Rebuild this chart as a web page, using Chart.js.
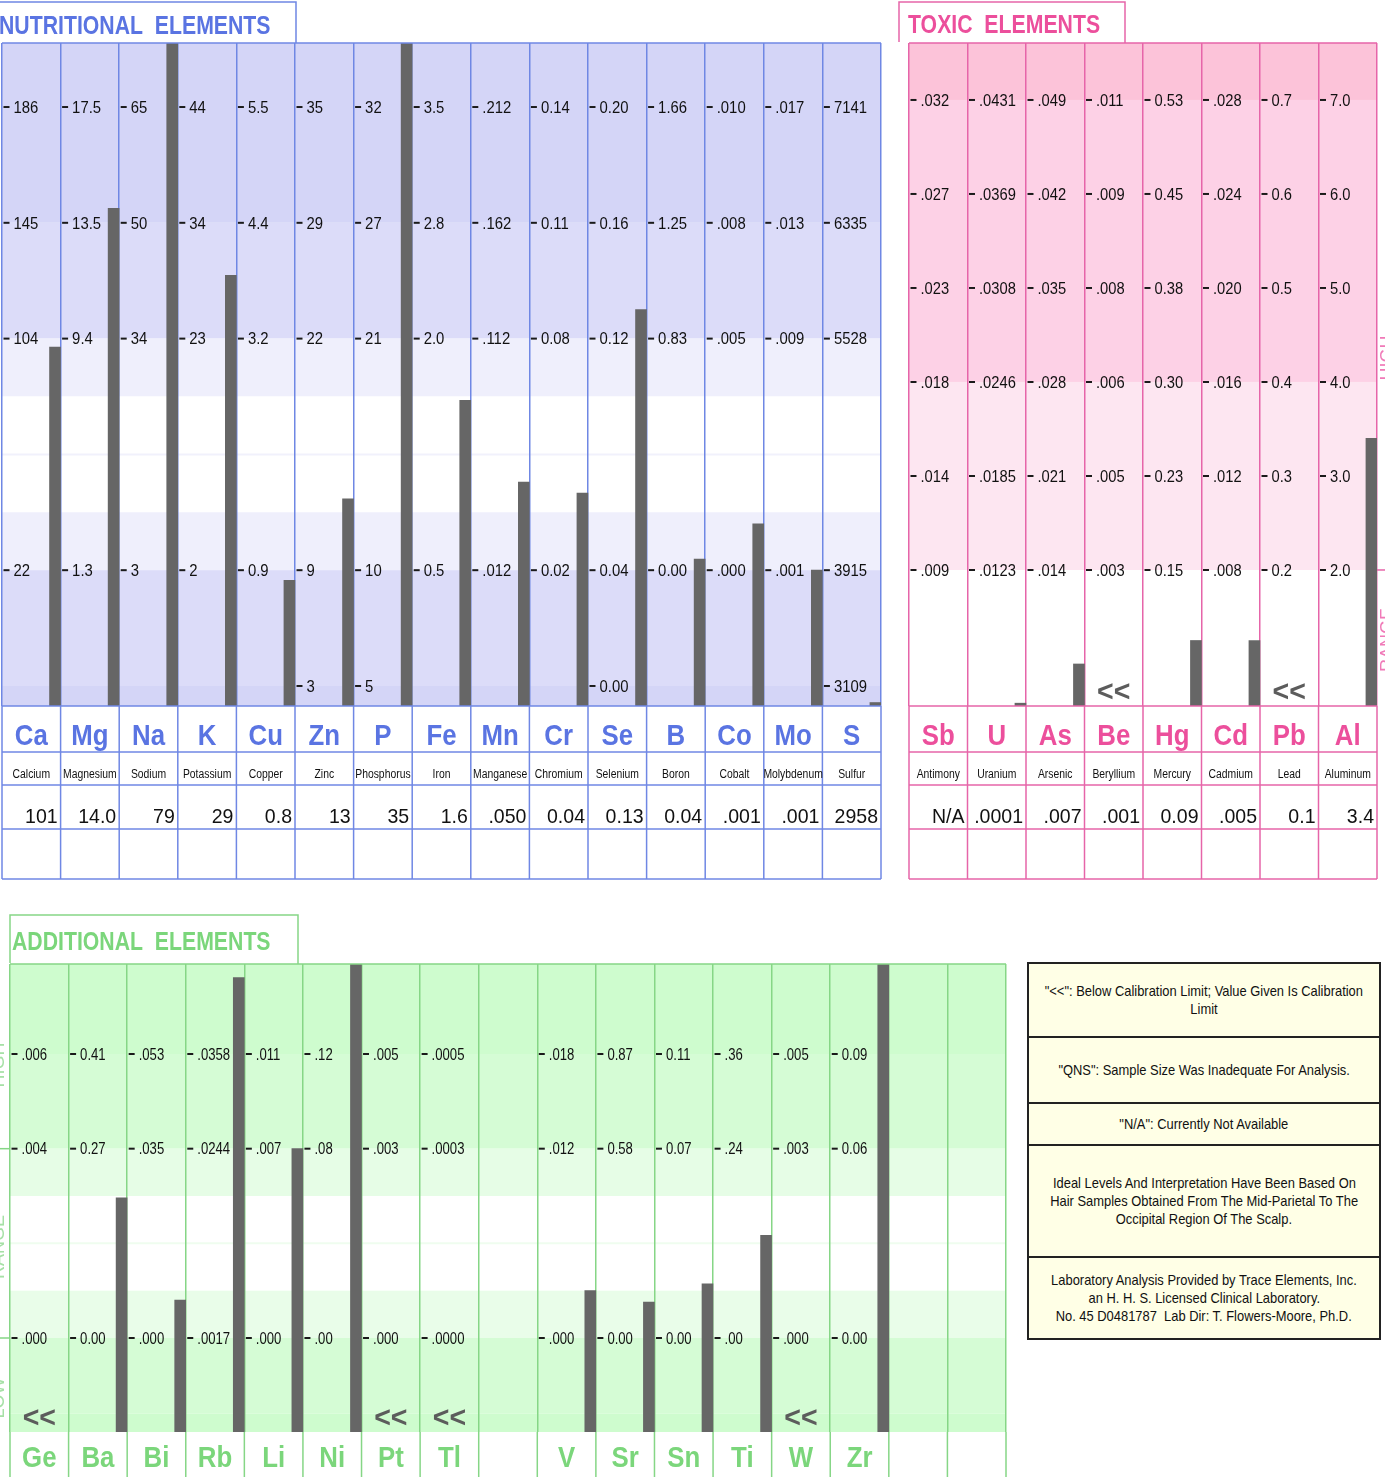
<!DOCTYPE html>
<html>
<head>
<meta charset="utf-8">
<title>Hair Tissue Mineral Analysis</title>
<script src="https://cdn.jsdelivr.net/npm/chart.js@4.4.1/dist/chart.umd.min.js"></script>
<style>
html, body { margin:0; padding:0; background:#fff; width:1385px; height:1477px; overflow:hidden; position:relative; }
canvas { position:absolute; display:block; }
#legend { position:absolute; left:1027px; top:962px; width:354px; height:378px; box-sizing:border-box;
  border:2px solid #222; background:#ffffe6; font-family:'Liberation Sans', Arial, sans-serif; font-size:14.2px; color:#111; }
#legend .row { box-sizing:border-box; border-bottom:2px solid #222; display:flex; flex-direction:column;
  align-items:center; justify-content:center; overflow:hidden; }
#legend .row:last-child { border-bottom:none; }
#legend .row div { white-space:nowrap; text-align:center; line-height:18px; transform:scaleX(0.91); }
</style>
</head>
<body>
<canvas id="cNutri" width="895" height="885" style="left:0px;top:0px;"></canvas>
<canvas id="cToxic" width="495" height="885" style="left:890px;top:0px;"></canvas>
<canvas id="cAdd" width="1015" height="577" style="left:0px;top:900px;"></canvas>
<div id="legend"></div>
<script>
// ================= DATA =================
const nutriSymbols = ["Ca","Mg","Na","K","Cu","Zn","P","Fe","Mn","Cr","Se","B","Co","Mo","S"];
const nutriNames = ["Calcium","Magnesium","Sodium","Potassium","Copper","Zinc","Phosphorus","Iron","Manganese","Chromium","Selenium","Boron","Cobalt","Molybdenum","Sulfur"];
const nutriResults = ["101","14.0","79","29","0.8","13","35","1.6",".050","0.04","0.13","0.04",".001",".001","2958"];
const nutriTickLevels = [5,4,3,1,0];
const nutriTickLabels = [
  ["186","145","104","22",""],
  ["17.5","13.5","9.4","1.3",""],
  ["65","50","34","3",""],
  ["44","34","23","2",""],
  ["5.5","4.4","3.2","0.9",""],
  ["35","29","22","9","3"],
  ["32","27","21","10","5"],
  ["3.5","2.8","2.0","0.5",""],
  [".212",".162",".112",".012",""],
  ["0.14","0.11","0.08","0.02",""],
  ["0.20","0.16","0.12","0.04","0.00"],
  ["1.66","1.25","0.83","0.00",""],
  [".010",".008",".005",".000",""],
  [".017",".013",".009",".001",""],
  ["7141","6335","5528","3915","3109"]
];
const nutriBelowLimit = [false,false,false,false,false,false,false,false,false,false,false,false,false,false,false];

const toxicSymbols = ["Sb","U","As","Be","Hg","Cd","Pb","Al"];
const toxicNames = ["Antimony","Uranium","Arsenic","Beryllium","Mercury","Cadmium","Lead","Aluminum"];
const toxicResults = ["N/A",".0001",".007",".001","0.09",".005","0.1","3.4"];
const toxicTickLevels = [6,5,4,3,2,1];
const toxicTickLabels = [
  [".032",".027",".023",".018",".014",".009"],
  [".0431",".0369",".0308",".0246",".0185",".0123"],
  [".049",".042",".035",".028",".021",".014"],
  [".011",".009",".008",".006",".005",".003"],
  ["0.53","0.45","0.38","0.30","0.23","0.15"],
  [".028",".024",".020",".016",".012",".008"],
  ["0.7","0.6","0.5","0.4","0.3","0.2"],
  ["7.0","6.0","5.0","4.0","3.0","2.0"]
];
const toxicBelowLimit = [false,false,false,true,false,false,true,false];

const addSymbols = ["Ge","Ba","Bi","Rb","Li","Ni","Pt","Tl","","V","Sr","Sn","Ti","W","Zr","",""];
const addValues = [null,0.20,0.007,0.045,0.007,0.17,null,null,null,0.003,0.11,0.02,0.13,null,0.14,null,null];
const addTickLevels = [3,2,0];
const addTickLabels = [
  [".006",".004",".000"],
  ["0.41","0.27","0.00"],
  [".053",".035",".000"],
  [".0358",".0244",".0017"],
  [".011",".007",".000"],
  [".12",".08",".00"],
  [".005",".003",".000"],
  [".0005",".0003",".0000"],
  [],
  [".018",".012",".000"],
  ["0.87","0.58","0.00"],
  ["0.11","0.07","0.00"],
  [".36",".24",".00"],
  [".005",".003",".000"],
  ["0.09","0.06","0.00"],
  [],
  []
];
const addBelowLimit = [true,false,false,false,false,false,true,true,false,false,false,false,false,true,false,false,false];

const legendRows = [
  ['"<<": Below Calibration Limit; Value Given Is Calibration','Limit'],
  ['"QNS": Sample Size Was Inadequate For Analysis.'],
  ['"N/A": Currently Not Available'],
  ['Ideal Levels And Interpretation Have Been Based On','Hair Samples Obtained From The Mid-Parietal To The','Occipital Region Of The Scalp.'],
  ['Laboratory Analysis Provided by Trace Elements, Inc.','an H. H. S. Licensed Clinical Laboratory.','No. 45 D0481787\u00a0 Lab Dir: T. Flowers-Moore, Ph.D.']
];

// ================= HELPERS =================
const FAM = "'Liberation Sans', Arial, Helvetica, sans-serif";
function txt(ctx, s, x, y, font, color, align, sx) {
  ctx.save();
  ctx.font = font; ctx.fillStyle = color; ctx.textBaseline = 'alphabetic'; ctx.textAlign = align;
  ctx.translate(x, y); ctx.scale(sx, 1); ctx.fillText(s, 0, 0);
  ctx.restore();
}
function vtxt(ctx, s, cx, cy, font, color) {
  ctx.save();
  ctx.font = font; ctx.fillStyle = color; ctx.textBaseline = 'middle'; ctx.textAlign = 'center';
  ctx.translate(cx, cy); ctx.rotate(-Math.PI / 2); ctx.fillText(s, 0, 0);
  ctx.restore();
}
function line(ctx, x0, y0, x1, y1) { ctx.beginPath(); ctx.moveTo(x0, y0); ctx.lineTo(x1, y1); ctx.stroke(); }

// map a measured value onto the panel's position scale using the column's tick labels
function toPos(v, levels, labels) {
  const pts = [];
  levels.forEach((lv, k) => { const s = labels[k]; if (s !== undefined && s !== '') pts.push([lv, parseFloat(s)]); });
  pts.sort((a, b) => a[0] - b[0]);
  if (pts.length < 2) return null;
  for (let k = 0; k < pts.length - 1; k++) {
    if (v <= pts[k + 1][1] || k === pts.length - 2) {
      const [l0, v0] = pts[k], [l1, v1] = pts[k + 1];
      return l0 + (v - v0) / (v1 - v0) * (l1 - l0);
    }
  }
  return null;
}

function panelPlugin(P) {
  return {
    id: 'panel_' + P.key,
    beforeDraw(chart) {
      const { ctx, chartArea: a } = chart; const ys = chart.scales.y;
      ctx.save();
      P.bands.forEach(b => {
        const top = ys.getPixelForValue(Math.min(b[1], P.yMax));
        const bot = ys.getPixelForValue(Math.max(b[0], P.yMin));
        ctx.fillStyle = b[2];
        ctx.fillRect(a.left, top, a.right - a.left, bot - top);
      });
      if (P.faintAt !== undefined) {
        ctx.strokeStyle = P.faintColor; ctx.lineWidth = 2;
        const yy = ys.getPixelForValue(P.faintAt);
        line(ctx, a.left, yy, a.right, yy);
      }
      ctx.restore();
    },
    beforeDatasetsDraw(chart) {
      const { ctx } = chart; const xs = chart.scales.x, ys = chart.scales.y;
      ctx.save();
      ctx.strokeStyle = '#1a1a1a'; ctx.lineWidth = 2;
      P.ticks.forEach((labels, i) => {
        const xl = xs.getPixelForValue(i);
        labels.forEach((s, k) => {
          if (!s) return;
          const yy = ys.getPixelForValue(P.levels[k]);
          line(ctx, xl + 1.5, yy, xl + 7.5, yy);
          txt(ctx, s, xl + 11.5, yy + 5.8, '16px ' + FAM, '#111', 'left', P.tickSx);
        });
      });
      ctx.restore();
    },
    afterDraw(chart) {
      const { ctx, chartArea: a } = chart; const xs = chart.scales.x, ys = chart.scales.y;
      const n = P.symbols.length;
      ctx.save();
      ctx.strokeStyle = P.line; ctx.lineWidth = 1.5;
      P.rowLines.forEach(off => line(ctx, a.left, a.bottom + off, a.right, a.bottom + off));
      for (let i = 0; i <= n; i++) {
        const x = xs.getPixelForValue(i);
        line(ctx, x, a.bottom, x, a.bottom + P.tableH);
      }
      line(ctx, a.left, a.top, a.right, a.top);
      ctx.beginPath();
      ctx.moveTo(a.left + P.tab.l, a.top - 1);
      ctx.lineTo(a.left + P.tab.l, a.top - P.tab.h);
      ctx.lineTo(a.left + P.tab.r, a.top - P.tab.h);
      ctx.lineTo(a.left + P.tab.r, a.top);
      ctx.stroke();
      txt(ctx, P.title, a.left + P.titleDx, a.top - P.titleUp, 'bold 25px ' + FAM, P.text, 'left', 0.85);
      for (let i = 0; i < n; i++) {
        const cx = xs.getPixelForValue(i + 0.5);
        if (P.symbols[i]) txt(ctx, P.symbols[i], cx, a.bottom + P.symBase, 'bold 30px ' + FAM, P.text, 'center', 0.86);
        if (P.names) txt(ctx, P.names[i], cx, a.bottom + 72, '12.5px ' + FAM, '#111', 'center', 0.83);
        if (P.results) txt(ctx, P.results[i], xs.getPixelForValue(i + 1) - 3, a.bottom + 117, '21px ' + FAM, '#111', 'right', 0.93);
        if (P.below[i]) txt(ctx, '<<', cx, a.bottom - 5, 'bold 30px ' + FAM, '#5c5c5c', 'center', 0.95);
      }
      P.side.lines.forEach(lv => {
        const yy = ys.getPixelForValue(lv);
        line(ctx, P.side.x0(a, chart), yy, P.side.x1(a, chart), yy);
      });
      P.side.labels.forEach(([s, pageY]) => {
        vtxt(ctx, s, P.side.cx(a, chart), pageY - P.canvasTop, '18px ' + FAM, P.side.color);
      });
      ctx.restore();
    }
  };
}

function buildChart(canvasId, P) {
  const cv = document.getElementById(canvasId);
  const n = P.symbols.length;
  const bars = [];
  P.values.forEach((v, i) => {
    if (v === null || !isFinite(v) || P.below[i]) return;
    let p = toPos(v, P.levels, P.ticks[i]);
    if (p === null) return;
    p = Math.max(p, P.yMin + 0.03);
    bars.push({ x: i + 0.905, y: [P.yMin, p] });
  });
  return new Chart(cv, {
    type: 'bar',
    data: { datasets: [{ label: P.title, data: bars, backgroundColor: '#666666', borderWidth: 0, barThickness: 11 }] },
    options: {
      responsive: false, animation: false, events: [],
      layout: { padding: P.padding },
      plugins: { legend: { display: false }, tooltip: { enabled: false }, title: { display: false } },
      scales: {
        x: { type: 'linear', min: 0, max: n, offset: false,
             ticks: { display: false, stepSize: 1, maxTicksLimit: 100 },
             grid: { display: true, drawTicks: false, offset: false, color: P.line, lineWidth: 1.5 },
             border: { display: false } },
        y: { type: 'linear', min: P.yMin, max: P.yMax, display: false }
      }
    },
    plugins: [panelPlugin(P)]
  });
}

// ================= PANELS =================
buildChart('cNutri', {
  key: 'nutri', title: 'NUTRITIONAL  ELEMENTS', canvasTop: 0,
  symbols: nutriSymbols, names: nutriNames, results: nutriResults,
  values: nutriResults.map(parseFloat), levels: nutriTickLevels, ticks: nutriTickLabels, below: nutriBelowLimit,
  yMin: -0.173, yMax: 5.553,
  padding: { left: 2, top: 43, right: 14, bottom: 179 },
  line: '#6f87e4', text: '#5a74e2', tickSx: 0.93,
  bands: [[4, 99, '#d4d5f7'], [3, 4, '#dcdcf9'], [2.5, 3, '#efeffc'], [1.5, 2.5, '#ffffff'], [1, 1.5, '#efeffc'], [0, 1, '#dcdcf9'], [-99, 0, '#d4d5f7']],
  faintAt: 2, faintColor: '#f1f1fc',
  rowLines: [0, 46, 79, 123, 173], tableH: 173, symBase: 39,
  tab: { l: -12, r: 294, h: 41 }, titleDx: -3, titleUp: 9.5,
  side: { lines: [], labels: [], color: '#000', x0: () => 0, x1: () => 0, cx: () => 0 }
});

buildChart('cToxic', {
  key: 'toxic', title: 'TOXIC  ELEMENTS', canvasTop: 0,
  symbols: toxicSymbols, names: toxicNames, results: toxicResults,
  values: toxicResults.map(parseFloat), levels: toxicTickLevels, ticks: toxicTickLabels, below: toxicBelowLimit,
  yMin: -0.447, yMax: 6.606,
  padding: { left: 19, top: 43, right: 8, bottom: 179 },
  line: '#e665a9', text: '#ec4f9c', tickSx: 0.92,
  bands: [[6, 99, '#fcc3d9'], [3, 6, '#fdd1e6'], [1, 3, '#fde6f1'], [-99, 1, '#ffffff']],
  rowLines: [0, 46, 79, 123, 173], tableH: 173, symBase: 39,
  tab: { l: -10, r: 216, h: 41 }, titleDx: -1, titleUp: 10,
  side: { lines: [1], labels: [['HIGH', 358], ['RANGE', 640]], color: '#f07ab8',
          x0: (a) => a.right, x1: (a, c) => c.width, cx: (a) => a.right + 11 }
});

buildChart('cAdd', {
  key: 'add', title: 'ADDITIONAL  ELEMENTS', canvasTop: 900,
  symbols: addSymbols, names: null, results: null,
  values: addValues, levels: addTickLevels, ticks: addTickLabels, below: addBelowLimit,
  yMin: -0.993, yMax: 3.951,
  padding: { left: 10, top: 64, right: 9, bottom: 45 },
  line: '#86d686', text: '#7bd67b', tickSx: 0.82,
  bands: [[3, 99, '#cefcce'], [2, 3, '#d5fcd5'], [1.5, 2, '#e6fde6'], [0.5, 1.5, '#ffffff'], [0, 0.5, '#e9fde9'], [-0.8, 0, '#d5fcd5'], [-99, -0.8, '#cefcce']],
  faintAt: 1, faintColor: '#effdef',
  rowLines: [], tableH: 45, symBase: 35,
  tab: { l: 0, r: 288, h: 49 }, titleDx: 2, titleUp: 14,
  side: { lines: [2, 0], labels: [['HIGH', 1065], ['RANGE', 1247], ['LOW', 1398]], color: '#a6e0a6',
          x0: () => 0, x1: (a) => a.left, cx: () => -1 }
});

// ================= LEGEND BOX =================
const legendHeights = [74, 66, 42, 112, 80];
const lg = document.getElementById('legend');
legendRows.forEach((rowLines, r) => {
  const row = document.createElement('div');
  row.className = 'row';
  row.style.height = legendHeights[r] + 'px';
  rowLines.forEach(t => { const d = document.createElement('div'); d.textContent = t; row.appendChild(d); });
  lg.appendChild(row);
});
</script>
</body>
</html>
